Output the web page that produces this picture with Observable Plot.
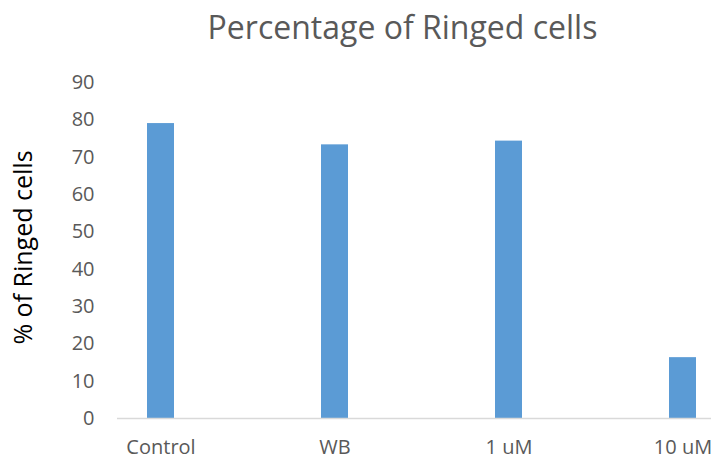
<!DOCTYPE html>
<html>
<head>
<meta charset="utf-8">
<script src="https://cdn.jsdelivr.net/npm/d3@7"></script>
<script src="https://cdn.jsdelivr.net/npm/@observablehq/plot@0.6"></script>
<style>
  html, body { margin: 0; padding: 0; background: #fff; }
  #chart svg { display: block; }
</style>
</head>
<body>
<div id="chart"></div>
<script>
// Share of ringed cells per treatment
const categories = ["Control", "WB", "1 uM", "10 uM"];
const values = [79.0, 73.3, 74.3, 16.3];
const yTicks = [0, 10, 20, 30, 40, 50, 60, 70, 80, 90];
const title = "Percentage of Ringed cells";
const yLabel = "% of Ringed cells";

const data = categories.map((c, i) => ({category: c, value: values[i]}));
const font = "'Open Sans', sans-serif";
const textColor = "#595959";

const chart = Plot.plot({
  width: 713,
  height: 459,
  marginTop: 82,
  marginBottom: 41,
  marginLeft: 117,
  marginRight: 2,
  style: {fontFamily: font, fontSize: "20px", color: textColor, background: "#fff"},
  x: {domain: categories, range: [73, 769], paddingInner: 0.845, paddingOuter: 0.4225, label: null},
  y: {domain: [0, 90], label: null},
  marks: [
    Plot.barY(data, {x: "category", y: "value", fill: "#5B9BD5"}),
    Plot.ruleY([0], {stroke: "#D9D9D9", strokeWidth: 1.5}),
    Plot.axisY({ticks: yTicks, tickSize: 0, tickPadding: 23, label: null, fill: textColor, fontSize: 20}),
    Plot.axisX({tickSize: 0, tickPadding: 21, label: null, fill: textColor, fontSize: 20}),
    Plot.text([yLabel], {frameAnchor: "left", textAnchor: "middle", dx: -94, dy: -3, rotate: -90, fontSize: 25, fill: "#000"}),
    Plot.text([title], {frameAnchor: "top", dx: -12, dy: -66, fontSize: 32, fill: textColor})
  ]
});
document.getElementById("chart").append(chart);
</script>
</body>
</html>
